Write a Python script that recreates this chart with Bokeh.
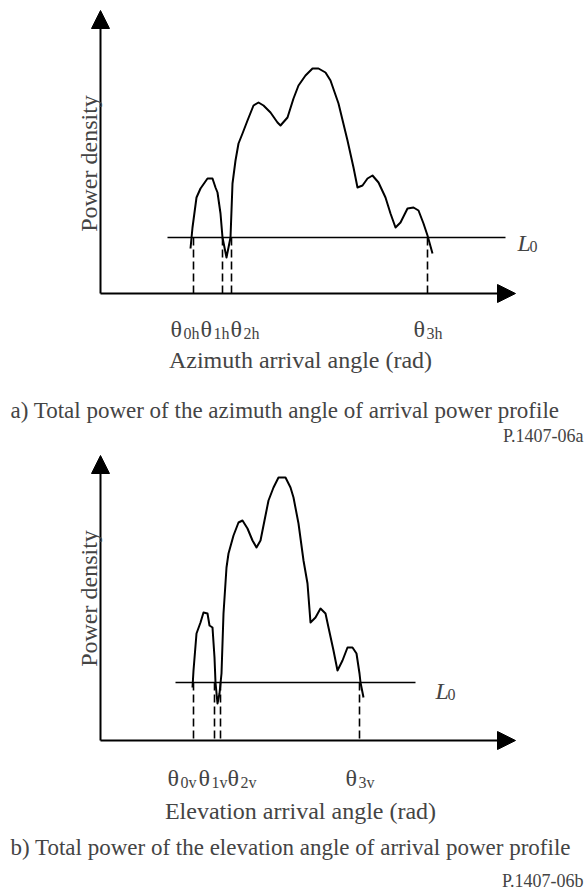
import numpy as np
from bokeh.plotting import figure
from bokeh.layouts import column
from bokeh.models import Range1d, Label, Arrow, NormalHead
from bokeh.embed import file_html
from bokeh.resources import INLINE

# ---------------- data (arbitrary units, origin at axes corner) ----------------
# a) azimuth profile
az_angle = [0.90, 0.92, 0.96, 1.00, 1.07, 1.12, 1.15, 1.17, 1.20, 1.22, 1.26, 1.28,
            1.30, 1.32, 1.35, 1.38, 1.42, 1.47, 1.53, 1.58, 1.63, 1.70, 1.77, 1.80,
            1.87, 1.93, 1.98, 2.05, 2.12, 2.18, 2.25, 2.30, 2.38, 2.47, 2.53, 2.57,
            2.62, 2.67, 2.72, 2.78, 2.85, 2.90, 2.95, 3.00, 3.07, 3.13, 3.18, 3.23,
            3.27, 3.32]
az_power = [0.45, 0.66, 0.96, 1.05, 1.15, 1.15, 1.06, 1.01, 0.80, 0.56, 0.36, 0.46,
            0.56, 1.10, 1.33, 1.50, 1.60, 1.73, 1.88, 1.91, 1.88, 1.81, 1.71, 1.68,
            1.76, 1.95, 2.08, 2.18, 2.25, 2.25, 2.21, 2.13, 1.90, 1.53, 1.26, 1.06,
            1.08, 1.15, 1.18, 1.11, 0.96, 0.80, 0.66, 0.71, 0.85, 0.86, 0.83, 0.70,
            0.58, 0.40]
az_L0 = 0.56
az_L0_span = [0.67, 4.05]
az_theta = [0.93, 1.22, 1.31, 3.27]
az_theta_subs = ["0h", "1h", "2h", "3h"]
az_theta_label_x = [0.70, 1.00, 1.30, 3.13]

# b) elevation profile
el_angle = [0.92, 0.93, 0.96, 1.00, 1.03, 1.07, 1.09, 1.12, 1.14, 1.15, 1.17, 1.19,
            1.21, 1.23, 1.26, 1.28, 1.33, 1.38, 1.42, 1.47, 1.52, 1.56, 1.60, 1.64,
            1.68, 1.73, 1.78, 1.85, 1.90, 1.93, 1.98, 2.03, 2.07, 2.10, 2.15, 2.20,
            2.25, 2.28, 2.33, 2.37, 2.42, 2.47, 2.52, 2.56, 2.59, 2.60, 2.63]
el_power = [0.53, 0.70, 1.07, 1.18, 1.28, 1.27, 1.15, 1.13, 0.83, 0.58, 0.37, 0.47,
            0.67, 1.27, 1.73, 1.87, 2.05, 2.18, 2.20, 2.12, 2.00, 1.93, 2.00, 2.20,
            2.40, 2.53, 2.63, 2.63, 2.53, 2.43, 2.17, 1.80, 1.57, 1.18, 1.23, 1.32,
            1.27, 1.13, 0.90, 0.70, 0.80, 0.93, 0.93, 0.87, 0.67, 0.58, 0.43]
el_L0 = 0.58
el_L0_span = [0.75, 3.15]
el_theta = [0.93, 1.14, 1.20, 2.59]
el_theta_subs = ["0v", "1v", "2v", "3v"]
el_theta_label_x = [0.67, 0.98, 1.27, 2.45]

FONT = "Liberation Serif"
W = 585


def make_panel(height, y_bottom, y_top, y_arrow, angle, power, L0, L0_span, theta, subs,
               label_x, theta_y, xlabel, xlabel_y, L_pos, caption, caption_pos,
               fig_id, fig_id_pos, ylabel_y):
    p = figure(width=W, height=height, output_backend="svg", toolbar_location=None,
               x_range=Range1d(-1.00, 4.85), y_range=Range1d(y_bottom, y_top),
               x_axis_location=None, y_axis_location=None, min_border=0,
               outline_line_color=None, background_fill_color="white",
               border_fill_color="white")
    p.xgrid.visible = False
    p.ygrid.visible = False

    # axes with arrow heads
    p.add_layout(Arrow(end=NormalHead(size=18, fill_color="black", line_color="black"),
                       x_start=0, y_start=0, x_end=0, y_end=y_arrow,
                       line_width=2, line_color="black"))
    p.add_layout(Arrow(end=NormalHead(size=18, fill_color="black", line_color="black"),
                       x_start=0, y_start=0, x_end=4.15, y_end=0,
                       line_width=2, line_color="black"))

    # threshold line
    p.line(L0_span, [L0, L0], line_width=1.6, line_color="black")
    # dashed projection lines
    p.segment(x0=theta, y0=[L0] * len(theta), x1=theta, y1=[0] * len(theta),
              line_dash="8 4", line_width=1.6, line_color="black")
    # profile curve
    p.line(angle, power, line_width=2, line_color="black", line_join="round")

    # theta labels
    for lx, s in zip(label_x, subs):
        p.add_layout(Label(x=lx, y=theta_y, text="θ", text_font=FONT,
                           text_font_size="24px", text_baseline="alphabetic"))
        p.add_layout(Label(x=lx, y=theta_y - 0.05, x_offset=13, text=s, text_font=FONT,
                           text_font_size="16px", text_baseline="alphabetic"))

    # L0 label
    p.add_layout(Label(x=L_pos[0], y=L_pos[1], text="L", text_font=FONT,
                       text_font_size="24px", text_font_style="italic",
                       text_baseline="alphabetic"))
    p.add_layout(Label(x=L_pos[0], y=L_pos[1] - 0.04, x_offset=12, text="0",
                       text_font=FONT, text_font_size="16px",
                       text_baseline="alphabetic"))

    # axis titles
    p.add_layout(Label(x=2.0, y=xlabel_y, text=xlabel, text_font=FONT,
                       text_font_size="24px", text_align="center",
                       text_baseline="alphabetic"))
    p.add_layout(Label(x=-0.12, y=ylabel_y, text="Power density", text_font=FONT,
                       text_font_size="24px", text_align="center",
                       text_baseline="alphabetic", angle=np.pi / 2))

    # caption and figure id
    p.add_layout(Label(x=caption_pos[0], y=caption_pos[1], text=caption, text_font=FONT,
                       text_font_size="23px", text_baseline="alphabetic"))
    p.add_layout(Label(x=fig_id_pos[0], y=fig_id_pos[1], text=fig_id, text_font=FONT,
                       text_font_size="18px", text_align="right",
                       text_baseline="alphabetic"))
    return p


top = make_panel(449, -1.56, 2.93, 2.83, az_angle, az_power, az_L0, az_L0_span, az_theta,
                 az_theta_subs, az_theta_label_x, -0.35,
                 "Azimuth arrival angle (rad)", -0.66, (4.17, 0.51),
                 "a) Total power of the azimuth angle of arrival power profile",
                 (-0.90, -1.17), "P.1407-06a", (4.83, -1.42), 1.30)

bottom = make_panel(446, -1.55, 2.91, 2.85, el_angle, el_power, el_L0, el_L0_span,
                    el_theta, el_theta_subs, el_theta_label_x, -0.37,
                    "Elevation arrival angle (rad)", -0.70, (3.35, 0.50),
                    "b) Total power of the elevation angle of arrival power profile",
                    (-0.90, -1.07), "P.1407-06b", (4.83, -1.40), 1.42)

layout = column(top, bottom, spacing=0)
open("out.html", "w").write(file_html(layout, INLINE))
